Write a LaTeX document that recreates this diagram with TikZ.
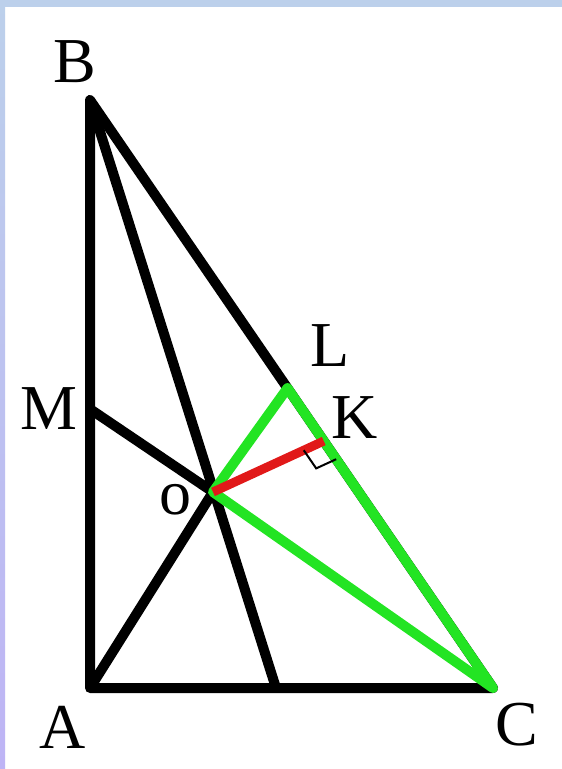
\documentclass[tikz,border=0pt]{standalone}
\usepackage{fontspec}
\setmainfont{Liberation Serif}
\usetikzlibrary{calc}
\definecolor{bandblue}{RGB}{188,208,235}
\definecolor{bandlilac}{RGB}{190,180,245}
\definecolor{segGreen}{RGB}{35,228,35}
\definecolor{segRed}{RGB}{225,25,25}
\tikzset{
  side/.style={line width=10pt, line join=round},
  greenside/.style={line width=10pt, line join=round, segGreen},
  redside/.style={line width=9pt, segRed},
  vertexlabel/.style={inner sep=0pt, font=\fontsize{64}{64}\selectfont}
}
\begin{document}
\begin{tikzpicture}[x=1pt,y=-1pt]
\useasboundingbox (0,0) rectangle (562,769);
\fill[white] (0,0) rectangle (562,769);
\shade[top color=bandblue, bottom color=bandlilac] (0,0) rectangle (5,769);
\fill[bandblue] (0,0) rectangle (562,7);
% vertices
\coordinate (B) at (90,100);
\coordinate (A) at (90,688);
\coordinate (C) at (493,688);
\coordinate (M) at (90,409);
\coordinate (O) at (213,492);
\coordinate (D) at (276,688);
\coordinate (L) at ($(B)!0.49!(C)$);
\coordinate (K) at ($(B)!0.58!(C)$);
% black lines
\draw[side] (A) -- (B) -- (C) -- cycle;
\draw[side] (B) -- (D);
\draw[side] (M) -- (O);
\draw[side] (A) -- (O);
% green triangle
\draw[greenside] (O) -- (L) -- (C) -- cycle;
% red segment
\draw[redside] (O) -- (K);
% right angle
\coordinate (k1) at ($(K)!22pt!(O)$);
\coordinate (k2) at ($(K)!22pt!(C)$);
\coordinate (k3) at ($(k1)+(k2)-(K)$);
\draw[line width=2pt] (k1) -- (k3) -- (k2);
% labels
\node[vertexlabel] (lblB) at (75,62) {B};
\node[vertexlabel] (lblM) at (49,409) {M};
\node[vertexlabel] (lblO) at (175,500) {o};
\node[vertexlabel] (lblL) at (330,346) {L};
\node[vertexlabel] (lblK) at (355,418) {K};
\node[vertexlabel] (lblA) at (63,727) {A};
\node[vertexlabel] (lblC) at (517,725) {C};
\end{tikzpicture}
\end{document}
